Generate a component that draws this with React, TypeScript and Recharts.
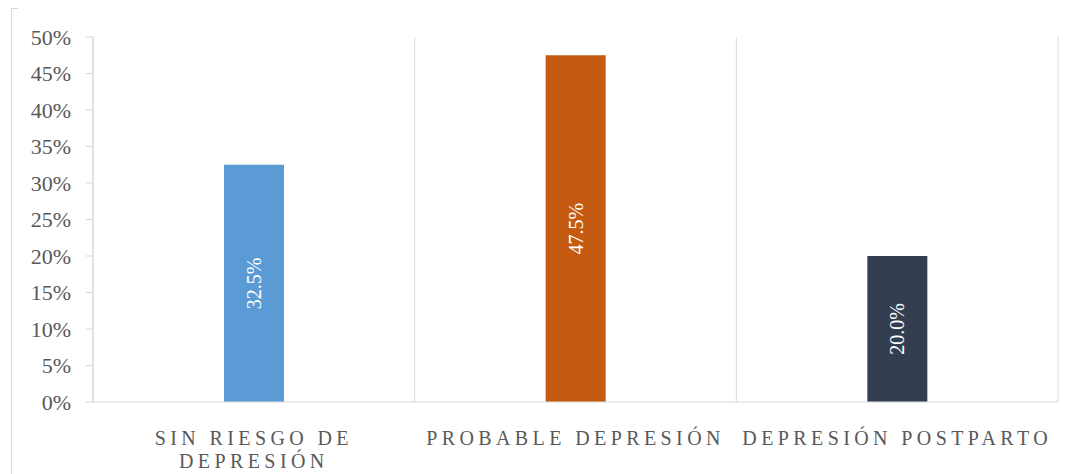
import React from "react";
import {
  BarChart,
  Bar,
  XAxis,
  YAxis,
  CartesianGrid,
  Cell,
  LabelList,
} from "recharts";

const categories = [
  "SIN RIESGO DE DEPRESIÓN",
  "PROBABLE DEPRESIÓN",
  "DEPRESIÓN POSTPARTO",
];
const percentages = [32.5, 47.5, 20.0];
const barColors = ["#5B9BD5", "#C55A11", "#333F50"];
const yTicks = [0, 5, 10, 15, 20, 25, 30, 35, 40, 45, 50];

const data = categories.map((name, i) => ({ name, value: percentages[i] }));

const FONT = '"Liberation Serif", "Times New Roman", serif';
const GRID = "#D9D9D9";
const TEXT = "#595959";

// break long category names into two lines, like the spreadsheet does
const wrapLabel = (label: string, max = 20): string[] => {
  if (label.length <= max) return [label];
  const words = label.split(" ");
  const lines: string[] = [];
  let cur = "";
  words.forEach((w) => {
    const next = cur ? cur + " " + w : w;
    if (next.length > max - 6 && cur) {
      lines.push(cur);
      cur = w;
    } else {
      cur = next;
    }
  });
  if (cur) lines.push(cur);
  return lines;
};

const CategoryTick = (props: any) => {
  const { x, y, payload } = props;
  const lines = wrapLabel(payload.value);
  return (
    <g transform={`translate(${x},${y})`}>
      {lines.map((line, i) => (
        <text
          key={i}
          x={0}
          y={35 + i * 23}
          textAnchor="middle"
          fill={TEXT}
          fontFamily={FONT}
          fontSize={20}
          letterSpacing={4.4}
        >
          {line}
        </text>
      ))}
    </g>
  );
};

const ValueLabel = (props: any) => {
  const { x, y, width, height, value } = props;
  const cx = x + width / 2;
  const cy = y + height / 2;
  return (
    <text
      x={cx}
      y={cy}
      transform={`rotate(-90, ${cx}, ${cy})`}
      textAnchor="middle"
      dominantBaseline="central"
      fill="#FFFFFF"
      fontFamily={FONT}
      fontSize={20}
    >
      {`${Number(value).toFixed(1)}%`}
    </text>
  );
};

const App = () => {
  return (
    <div
      style={{
        position: "absolute",
        left: 0,
        top: 0,
        width: 1073,
        height: 474,
        background: "#fff",
      }}
    >
      <div
        style={{
          position: "absolute",
          left: 11,
          top: 8,
          width: 6,
          height: 466,
          borderLeft: `1px solid ${GRID}`,
          borderTop: `1px solid ${GRID}`,
        }}
      />
      <BarChart
        width={1073}
        height={474}
        data={data}
        margin={{ top: 37, right: 15, left: 0, bottom: 0 }}
      >
        <CartesianGrid
          horizontal={false}
          stroke={GRID}
          verticalCoordinatesGenerator={({ offset }: any) =>
            categories
              .concat([""])
              .map((_, i) => offset.left + (i * offset.width) / categories.length)
          }
        />
        <XAxis
          dataKey="name"
          axisLine={{ stroke: GRID }}
          tickLine={false}
          tick={<CategoryTick />}
          interval={0}
          height={72}
        />
        <YAxis
          width={93}
          domain={[0, 50]}
          ticks={yTicks}
          interval={0}
          tickFormatter={(v: number) => `${v}%`}
          axisLine={{ stroke: GRID }}
          tickLine={{ stroke: GRID }}
          tickSize={7}
          tickMargin={15}
          tick={{ fill: TEXT, fontFamily: FONT, fontSize: 22 }}
        />
        <Bar dataKey="value" barSize={60} isAnimationActive={false}>
          {data.map((_, i) => (
            <Cell key={i} fill={barColors[i]} />
          ))}
          <LabelList dataKey="value" content={<ValueLabel />} />
        </Bar>
      </BarChart>
    </div>
  );
};

export default App;
